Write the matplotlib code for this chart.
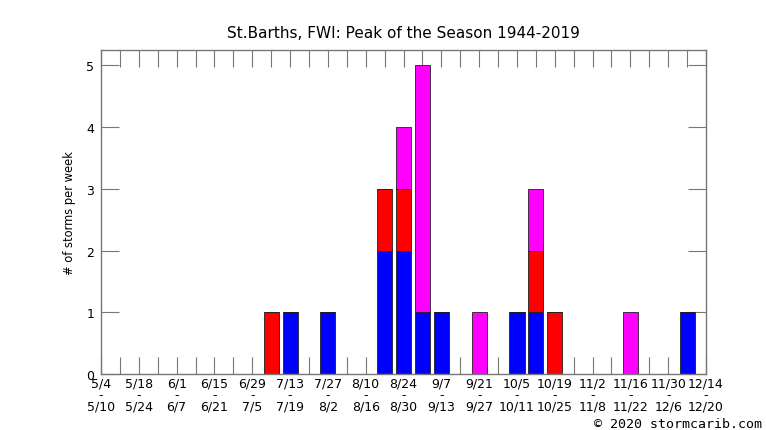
import matplotlib
matplotlib.use("Agg")
import matplotlib.pyplot as plt
import numpy as np

# week start labels (weekly bins, 5/4 .. 12/14)
week_starts = ["5/4", "5/11", "5/18", "5/25", "6/1", "6/8", "6/15", "6/22", "6/29",
               "7/6", "7/13", "7/20", "7/27", "8/3", "8/10", "8/17", "8/24", "8/31",
               "9/7", "9/14", "9/21", "9/28", "10/5", "10/12", "10/19", "10/26",
               "11/2", "11/9", "11/16", "11/23", "11/30", "12/7", "12/14"]
tick_labels = ["5/4\n-\n5/10", "5/18\n-\n5/24", "6/1\n-\n6/7", "6/15\n-\n6/21",
               "6/29\n-\n7/5", "7/13\n-\n7/19", "7/27\n-\n8/2", "8/10\n-\n8/16",
               "8/24\n-\n8/30", "9/7\n-\n9/13", "9/21\n-\n9/27", "10/5\n-\n10/11",
               "10/19\n-\n10/25", "11/2\n-\n11/8", "11/16\n-\n11/22", "11/30\n-\n12/6",
               "12/14\n-\n12/20"]

blue_vals =    [0,0,0,0,0,0,0,0,0, 0,1,0,1,0,0,2,2,1, 1,0,0,0,1,1,0,0, 0,0,0,0,0,1,0]
red_vals =     [0,0,0,0,0,0,0,0,0, 1,0,0,0,0,0,1,1,0, 0,0,0,0,0,1,1,0, 0,0,0,0,0,0,0]
magenta_vals = [0,0,0,0,0,0,0,0,0, 0,0,0,0,0,0,0,1,4, 0,0,1,0,0,1,0,0, 0,0,1,0,0,0,0]

x = np.arange(len(week_starts))
blue = np.array(blue_vals)
red = np.array(red_vals)
mag = np.array(magenta_vals)

fig = plt.figure(figsize=(7.66, 4.31), dpi=100)
ax = fig.add_axes([101/766, 1-375/431, (706-101)/766, (375-51)/431])

kw = dict(width=0.8, edgecolor="#202020", linewidth=0.6, zorder=2)
ax.bar(x, blue, color="#0000ff", **kw)
ax.bar(x, red, bottom=blue, color="#ff0000", **kw)
ax.bar(x, mag, bottom=blue+red, color="#ff00ff", **kw)

ax.set_xlim(0, len(week_starts)-1)
ax.set_ylim(0, 5.25)

ax.set_xticks(x[::2])
ax.set_xticklabels(tick_labels, fontsize=9, linespacing=0.85)
ax.set_xticks(x, minor=True)
ax.set_yticks([0, 1, 2, 3, 4, 5])
ax.set_yticklabels(["0", "1", "2", "3", "4", "5"], fontsize=9)

axcol = "#777777"
for s in ax.spines.values():
    s.set_color(axcol)
    s.set_linewidth(1.0)
    s.set_zorder(3)

ax.tick_params(axis="x", which="both", direction="in", length=12.5, width=0.8,
               color=axcol, top=True, bottom=True, pad=1.5)
ax.tick_params(axis="y", which="major", direction="in", length=13, width=0.8,
               color=axcol, left=True, right=True, pad=5)
ax.tick_params(axis="y", which="minor", left=False, right=False)
for t in ax.xaxis.get_ticklines(minor=True) + ax.xaxis.get_ticklines() + ax.yaxis.get_ticklines():
    t.set_zorder(4)

ax.set_ylabel("# of storms per week", fontsize=8.3, labelpad=7)
ax.set_title("St.Barths, FWI: Peak of the Season 1944-2019", fontsize=11, pad=9)

fig.text(762/766, 1-425/431, "\u00a9 2020 stormcarib.com", fontsize=9.5,
         family="DejaVu Sans Mono", ha="right", va="center")

fig.savefig("out.png", dpi=100)
